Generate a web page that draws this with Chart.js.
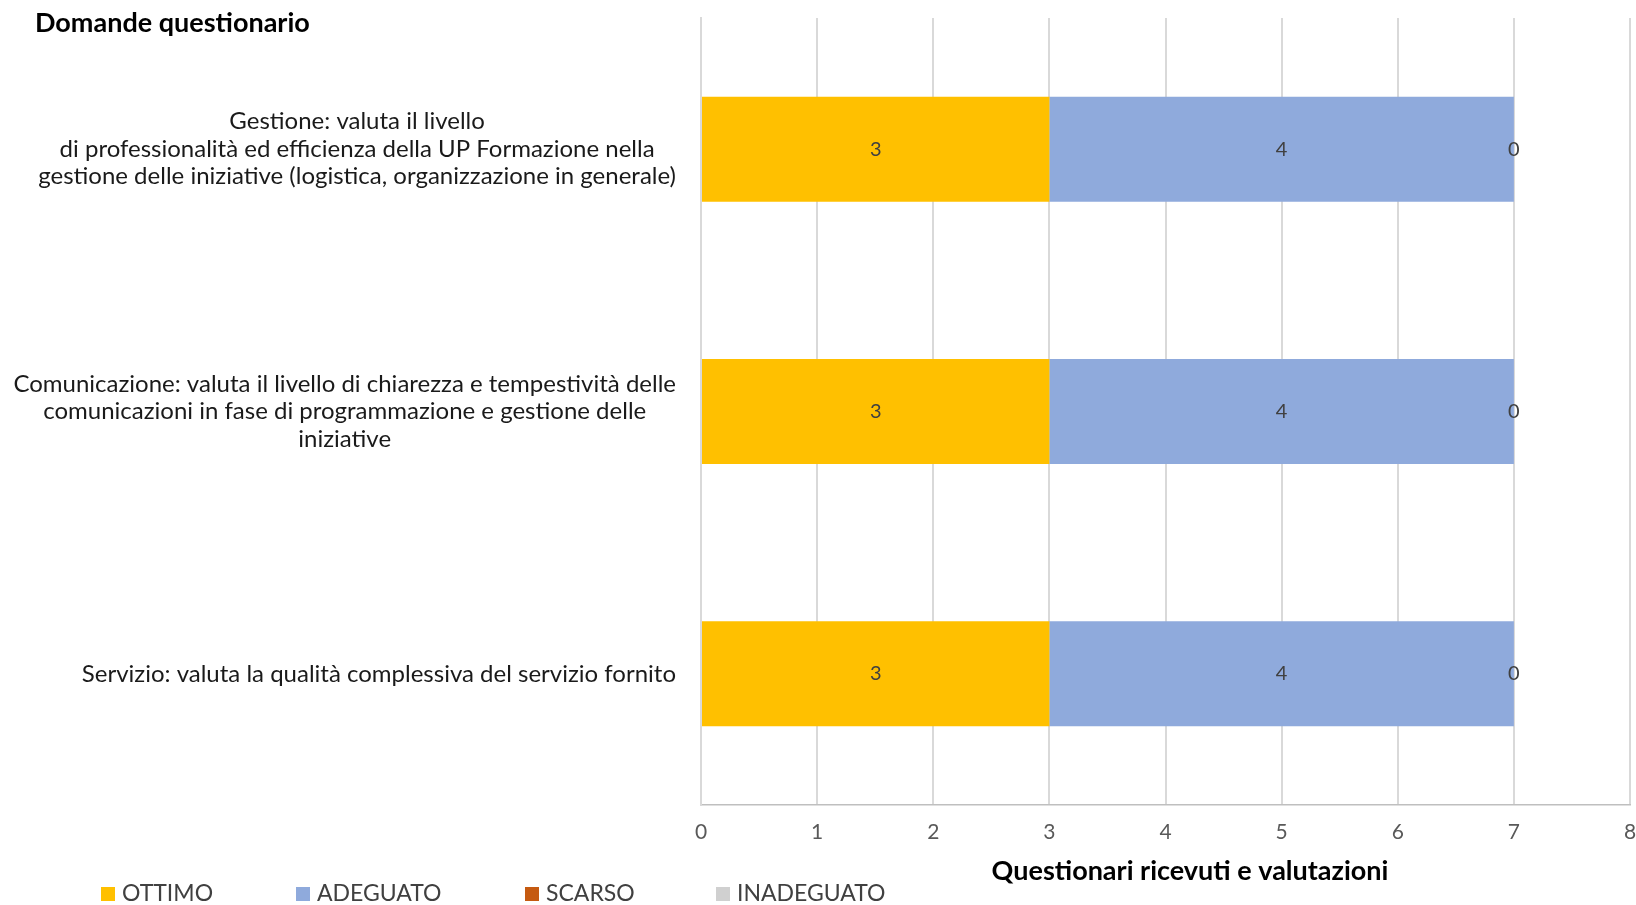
<!DOCTYPE html>
<html>
<head>
<meta charset="utf-8">
<script src="https://cdn.jsdelivr.net/npm/chart.js@4"></script>
<style>
  html, body { margin: 0; padding: 0; background: #fff; overflow: hidden; }
  #wrap { width: 1636px; height: 905px; position: relative; }
  canvas { display: block; }
</style>
</head>
<body>
<div id="wrap"><canvas id="chart"></canvas></div>
<script>
// Categories (each one is a multi-line label, as in the original)
const questions = [
  ['Gestione: valuta il livello', 'di professionalità ed efficienza della UP Formazione nella', 'gestione delle iniziative (logistica, organizzazione in generale)'],
  ['Comunicazione: valuta il livello di chiarezza e tempestività delle', 'comunicazioni in fase di programmazione e gestione delle', 'iniziative'],
  ['Servizio: valuta la qualità complessiva del servizio fornito']
];

// Series values
const ottimo = [3, 3, 3];
const adeguato = [4, 4, 4];
const scarso = [0, 0, 0];
const inadeguato = [0, 0, 0];

const seriesNames = ['OTTIMO', 'ADEGUATO', 'SCARSO', 'INADEGUATO'];
const xTicks = [0, 1, 2, 3, 4, 5, 6, 7, 8];

const chartTitle = 'Domande questionario';
const axisTitle = 'Questionari ricevuti e valutazioni';

const FONT = 'Lato, "Open Sans", sans-serif';

// Draws category labels, data labels, title, axis title and legend
const extrasPlugin = {
  id: 'extras',
  afterDraw(chart) {
    const ctx = chart.ctx;
    const area = chart.chartArea;
    const yScale = chart.scales.y;
    ctx.save();

    // chart title
    ctx.fillStyle = '#000';
    ctx.font = 'bold 27px ' + FONT;
    ctx.textAlign = 'left';
    ctx.textBaseline = 'middle';
    ctx.fillText(chartTitle, 35, 23);

    // category labels: block right aligned to the axis, lines centered
    ctx.font = '24px ' + FONT;
    ctx.fillStyle = '#1a1a1a';
    const lineH = 27.5;
    chart.data.labels.forEach((lines, i) => {
      const cy = yScale.getPixelForTick(i);
      const widths = lines.map(l => ctx.measureText(l).width);
      const maxW = Math.max(...widths);
      const cx = area.left - 25 - maxW / 2;
      ctx.textAlign = 'center';
      lines.forEach((l, j) => {
        ctx.fillText(l, cx, cy + (j - (lines.length - 1) / 2) * lineH);
      });
    });

    // data labels
    ctx.font = '20px ' + FONT;
    ctx.fillStyle = '#404040';
    ctx.textAlign = 'center';
    chart.data.datasets.forEach((ds, di) => {
      if (ds.showValues === false) return;
      const meta = chart.getDatasetMeta(di);
      meta.data.forEach((bar, i) => {
        const v = ds.data[i];
        if (v === null || v === undefined) return;
        const x = (bar.x + bar.base) / 2;
        ctx.fillText(String(v), x, bar.y);
      });
    });

    // x axis title
    ctx.font = 'bold 27px ' + FONT;
    ctx.fillStyle = '#000';
    ctx.fillText(axisTitle, 1190, 871);

    // legend
    const legendX = [101, 296, 525, 716];
    ctx.font = '23px ' + FONT;
    ctx.textAlign = 'left';
    chart.data.datasets.forEach((ds, di) => {
      const x = legendX[di];
      ctx.fillStyle = ds.legendColor || ds.backgroundColor;
      ctx.fillRect(x, 887, 14, 14);
      ctx.fillStyle = '#404040';
      ctx.fillText(ds.label, x + 21, 894);
    });

    ctx.restore();
  }
};

const ctx = document.getElementById('chart').getContext('2d');
new Chart(ctx, {
  type: 'bar',
  data: {
    labels: questions,
    datasets: [
      { label: seriesNames[0], data: ottimo, backgroundColor: '#FFC000' },
      { label: seriesNames[1], data: adeguato, backgroundColor: '#8FAADC' },
      { label: seriesNames[2], data: scarso, backgroundColor: '#C55A11' },
      { label: seriesNames[3], data: inadeguato, backgroundColor: '#A5A5A5', legendColor: '#D0D0D0', showValues: false }
    ]
  },
  options: {
    indexAxis: 'y',
    responsive: true,
    maintainAspectRatio: false,
    animation: false,
    layout: {
      padding: { left: 0, top: 18, right: 6, bottom: 0 }
    },
    datasets: {
      bar: { categoryPercentage: 1, barPercentage: 0.4 }
    },
    scales: {
      x: {
        stacked: true,
        min: 0,
        max: 8,
        afterBuildTicks(scale) {
          scale.ticks = xTicks.map(v => ({ value: v }));
        },
        afterFit(scale) {
          scale.height = 100;
          // the last tick label may run into the right margin, as in the original
          scale.paddingLeft = 0;
          scale.paddingRight = 0;
        },
        grid: {
          color: '#D9D9D9',
          lineWidth: 2,
          drawTicks: false
        },
        border: { color: '#BFBFBF', width: 1.5 },
        ticks: {
          padding: 15,
          color: '#595959',
          font: { family: FONT, size: 21 }
        }
      },
      y: {
        stacked: true,
        afterFit(scale) { scale.width = 701; },
        grid: { display: false },
        border: { color: '#D9D9D9', width: 2 },
        ticks: { display: false }
      }
    },
    plugins: {
      legend: { display: false },
      tooltip: { enabled: false }
    }
  },
  plugins: [extrasPlugin]
});
</script>
</body>
</html>
